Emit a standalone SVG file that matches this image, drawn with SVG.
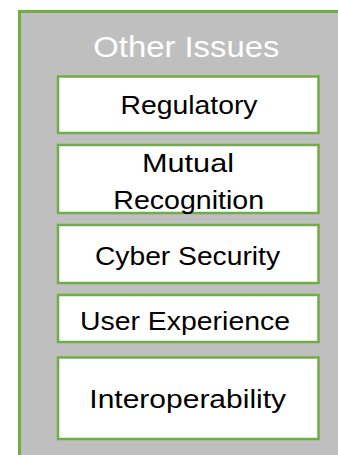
<svg xmlns="http://www.w3.org/2000/svg" width="338" height="455" viewBox="0 0 338 455">
<style>
.outer{fill:#BFBFBF;stroke:#70AD47;stroke-width:3}
.box{fill:#FFFFFF;stroke:#70AD47;stroke-width:2.5}
.t{font-family:"Liberation Sans",Arial,sans-serif;font-size:26px;fill:#000000;text-anchor:middle}
.title{font-family:"Liberation Sans",Arial,sans-serif;font-size:29px;fill:#FFFFFF;text-anchor:middle}
</style>
<rect width="338" height="455" fill="#FFFFFF"/>
<g id="other-issues">
<rect class="outer" x="19.5" y="11.5" width="340" height="460"/>
<text class="title" x="186.3" y="56.5" textLength="186" lengthAdjust="spacingAndGlyphs">Other Issues</text>
</g>
<g id="regulatory">
<rect class="box" x="58" y="76.5" width="260.5" height="56.5"/>
<text class="t" x="189" y="113.5" textLength="137" lengthAdjust="spacingAndGlyphs">Regulatory</text>
</g>
<g id="mutual-recognition">
<rect class="box" x="58" y="145" width="260.5" height="68"/>
<text class="t" x="188" y="171.5" textLength="92" lengthAdjust="spacingAndGlyphs">Mutual</text>
<text class="t" x="188.7" y="208.5" textLength="150.7" lengthAdjust="spacingAndGlyphs">Recognition</text>
</g>
<g id="cyber-security">
<rect class="box" x="58" y="225" width="260.5" height="58"/>
<text class="t" x="187.5" y="265" textLength="185" lengthAdjust="spacingAndGlyphs">Cyber Security</text>
</g>
<g id="user-experience">
<rect class="box" x="58" y="295" width="260.5" height="47"/>
<text class="t" x="185" y="330" textLength="210" lengthAdjust="spacingAndGlyphs">User Experience</text>
</g>
<g id="interoperability">
<rect class="box" x="58" y="357.5" width="260.5" height="81.5"/>
<text class="t" x="187.7" y="408.3" textLength="196.7" lengthAdjust="spacingAndGlyphs">Interoperability</text>
</g>
</svg>
